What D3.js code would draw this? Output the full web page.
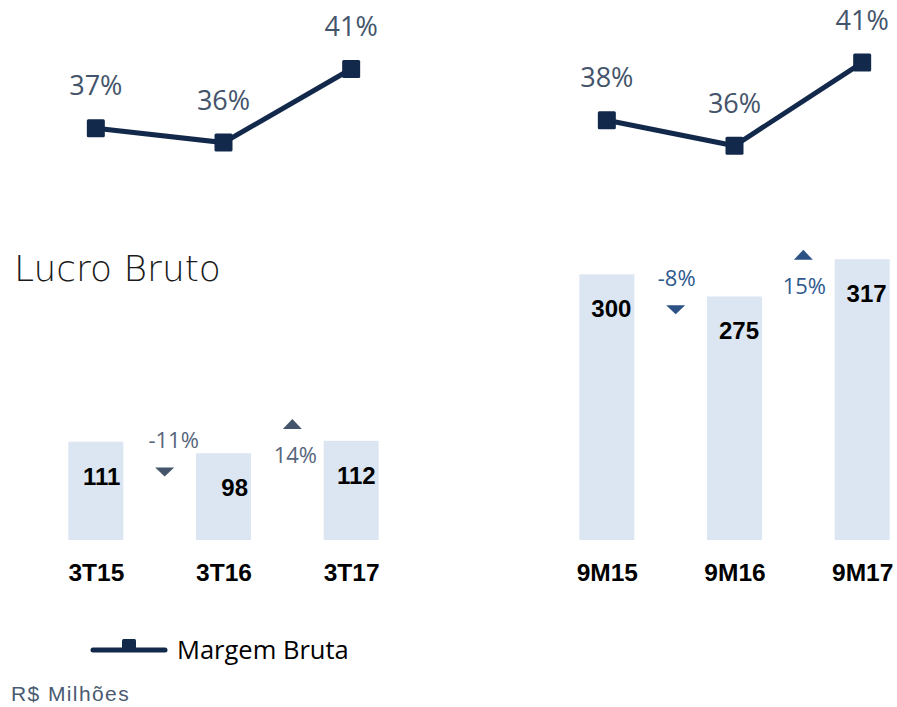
<!DOCTYPE html>
<html>
<head>
<meta charset="utf-8">
<script src="https://cdn.jsdelivr.net/npm/d3@7"></script>
<style>
	body { margin: 0; background: #fff; }
	svg { display: block; }
</style>
</head>
<body>
<div id="chart"></div>
<script>
// dados
var periods3T = ['3T15', '3T16', '3T17'];
var periods9M = ['9M15', '9M16', '9M17'];
var lucro3T = [111, 98, 112];
var lucro9M = [300, 275, 317];
var margem3T = [37.3, 36.4, 41.0];
var margem9M = [37.8, 36.2, 41.4];
var var3T = [-11, 14];
var var9M = [-8, 15];

var width = 897, height = 707;
var barColor = '#dce6f2';
var lineColor = '#13294b';

var svg = d3.select('#chart').append('svg')
	.attr('width', width)
	.attr('height', height);

// escalas compartilhadas pelos dois paineis
var yBar = d3.scaleLinear().domain([0, 350]).range([540, 230]);
var yLine = d3.scaleLinear().domain([30, 45]).range([245, 5]);
var barW = 55;

var panels = [
	{ cats: periods3T, bars: lucro3T, line: margem3T, vars: var3T, range: [32, 415], txt: '#56667c', tri: '#44546a', dx: [14, 8] },
	{ cats: periods9M, bars: lucro9M, line: margem9M, vars: var9M, range: [543, 926], txt: '#2f5a8f', tri: '#2b5185', dx: [6, 6] }
];

panels.forEach(function(p){
	var x = d3.scalePoint().domain(p.cats).range(p.range).padding(0.5);
	var g = svg.append('g');

	g.selectAll('rect.bar')
		.data(p.bars)
		.enter().append('rect')
		.attr('class', 'bar')
		.attr('x', function(d, i){ return x(p.cats[i]) - barW / 2; })
		.attr('y', function(d){ return yBar(d); })
		.attr('width', barW)
		.attr('height', function(d){ return yBar(0) - yBar(d); })
		.style('fill', barColor);

	g.selectAll('text.val')
		.data(p.bars)
		.enter().append('text')
		.attr('class', 'val')
		.attr('x', function(d, i){ return x(p.cats[i]) + barW / 2 - 3; })
		.attr('y', function(d){ return yBar(d) + 43; })
		.attr('text-anchor', 'end')
		.style('font-family', 'Liberation Sans, Arial, sans-serif')
		.style('font-weight', 'bold')
		.style('font-size', '24px')
		.style('fill', '#000')
		.text(function(d){ return d; });

	// eixo x sem linha, so os rotulos
	var axis = g.append('g')
		.attr('transform', 'translate(0,' + yBar(0) + ')')
		.call(d3.axisBottom(x).tickSize(0).tickPadding(41));
	axis.select('.domain').remove();
	axis.selectAll('text')
		.style('font-family', 'Liberation Sans, Arial, sans-serif')
		.style('font-weight', 'bold')
		.style('font-size', '24.5px')
		.style('fill', '#000')
		.attr('dy', 0);

	// variacao entre os periodos
	p.vars.forEach(function(v, i){
		var mid = (x(p.cats[i]) + x(p.cats[i + 1])) / 2;
		var ym = yBar((p.bars[i] + p.bars[i + 1]) / 2);
		var down = v < 0;
		var tx = mid + 5;
		var tri = down
			? [[tx - 9.5, ym + 20], [tx + 9.5, ym + 20], [tx, ym + 29]]
			: [[tx - 9.5, ym - 18], [tx + 9.5, ym - 18], [tx, ym - 28]];
		g.append('path')
			.attr('d', d3.line()(tri) + 'Z')
			.style('fill', p.tri);
		g.append('text')
			.attr('x', mid + p.dx[i])
			.attr('y', down ? ym + 1 : ym + 16)
			.attr('text-anchor', 'middle')
			.style('font-family', 'Open Sans, sans-serif')
			.style('font-size', '22px')
			.style('fill', p.txt)
			.text(v + '%');
	});

	// margem bruta
	var line = d3.line()
		.x(function(d, i){ return x(p.cats[i]); })
		.y(function(d){ return yLine(d); });
	g.append('path')
		.datum(p.line)
		.attr('d', line)
		.style('fill', 'none')
		.style('stroke', lineColor)
		.style('stroke-width', 5);
	g.selectAll('rect.mk')
		.data(p.line)
		.enter().append('rect')
		.attr('class', 'mk')
		.attr('x', function(d, i){ return x(p.cats[i]) - 9; })
		.attr('y', function(d){ return yLine(d) - 9; })
		.attr('width', 18)
		.attr('height', 18)
		.attr('rx', 1.5)
		.style('fill', lineColor);
	g.selectAll('text.pct')
		.data(p.line)
		.enter().append('text')
		.attr('class', 'pct')
		.attr('x', function(d, i){ return x(p.cats[i]); })
		.attr('y', function(d){ return yLine(d) - 33; })
		.attr('text-anchor', 'middle')
		.style('font-family', 'Open Sans, sans-serif')
		.style('font-size', '27px')
		.style('fill', '#44546a')
		.text(function(d){ return Math.round(d) + '%'; });
});

svg.append('text')
	.attr('x', 14)
	.attr('y', 281)
	.style('font-family', 'DejaVu Sans, sans-serif')
	.style('font-weight', 200)
	.style('font-size', '36px')
	.style('fill', '#1a1a1a')
	.text('Lucro Bruto');

// legenda
var leg = svg.append('g');
leg.append('line')
	.attr('x1', 93).attr('x2', 165)
	.attr('y1', 650).attr('y2', 650)
	.style('stroke', lineColor)
	.style('stroke-width', 5)
	.style('stroke-linecap', 'round');
leg.append('rect')
	.attr('x', 122).attr('y', 639)
	.attr('width', 14).attr('height', 12)
	.attr('rx', 1.5)
	.style('fill', lineColor);
leg.append('text')
	.attr('x', 177)
	.attr('y', 659)
	.style('font-family', 'Open Sans, sans-serif')
	.style('font-size', '25.5px')
	.style('fill', '#000')
	.text('Margem Bruta');

svg.append('text')
	.attr('x', 11)
	.attr('y', 701)
	.style('font-family', 'Liberation Sans, Arial, sans-serif')
	.style('font-size', '21px')
	.style('letter-spacing', '1.4px')
	.style('fill', '#4a5a70')
	.text('R$ Milhões');
</script>
</body>
</html>
